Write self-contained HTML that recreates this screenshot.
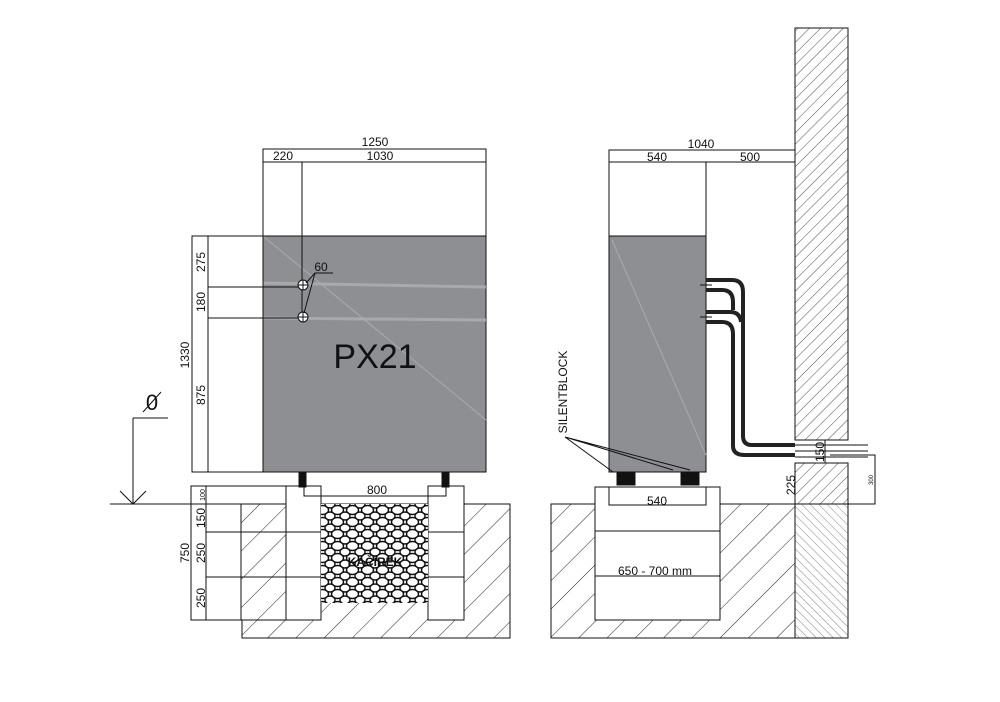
<!DOCTYPE html>
<html><head><meta charset="utf-8"><style>html,body{margin:0;padding:0;background:#fff}svg{display:block}text{font-family:"Liberation Sans",sans-serif;fill:#111}</style></head><body>
<svg width="1000" height="702" viewBox="0 0 1000 702" xmlns="http://www.w3.org/2000/svg">
<defs>
<pattern id="h" patternUnits="userSpaceOnUse" width="20" height="20" patternTransform="rotate(45)"><line x1="0" y1="0" x2="0" y2="20" stroke="#222" stroke-width="1"/></pattern>
<pattern id="hw" patternUnits="userSpaceOnUse" width="8" height="8" patternTransform="rotate(45)"><line x1="0" y1="0" x2="0" y2="8" stroke="#222" stroke-width="0.8"/></pattern>
<pattern id="hx" patternUnits="userSpaceOnUse" width="6" height="6" patternTransform="rotate(-45)"><line x1="0" y1="0" x2="0" y2="6" stroke="#555" stroke-width="0.7"/></pattern>
<pattern id="g" patternUnits="userSpaceOnUse" width="15" height="12"><rect width="15" height="12" fill="#fff"/><ellipse cx="7.5" cy="6" rx="6" ry="4.5" fill="#fff" stroke="#111" stroke-width="1.4"/><ellipse cx="0" cy="0" rx="5" ry="4" fill="#fff" stroke="#111" stroke-width="1.4"/><ellipse cx="15" cy="0" rx="5" ry="4" fill="#fff" stroke="#111" stroke-width="1.4"/><ellipse cx="0" cy="12" rx="5" ry="4" fill="#fff" stroke="#111" stroke-width="1.4"/><ellipse cx="15" cy="12" rx="5" ry="4" fill="#fff" stroke="#111" stroke-width="1.4"/></pattern>
</defs>
<g stroke="#111" stroke-width="1" fill="none">
<!-- LEFT VIEW -->
<rect x="242" y="504" width="268" height="134" fill="url(#h)"/>
<rect x="191" y="486" width="95" height="134" fill="#fff"/>
<line x1="206" y1="504" x2="286" y2="504"/><line x1="206" y1="486" x2="206" y2="620"/>
<line x1="206" y1="532" x2="286" y2="532"/><line x1="206" y1="577" x2="286" y2="577"/>
<rect x="241" y="504" width="45" height="116" fill="url(#h)"/>
<rect x="286" y="486" width="35" height="134" fill="#fff"/>
<rect x="428" y="486" width="36" height="134" fill="#fff"/>
<line x1="428" y1="532" x2="464" y2="532"/><line x1="428" y1="577" x2="464" y2="577"/>
<line x1="286" y1="532" x2="321" y2="532"/><line x1="286" y1="577" x2="321" y2="577"/>
<rect x="321" y="504" width="107" height="99" fill="url(#g)" stroke="none"/>
<polyline points="304,486 304,496 446,496 446,486"/>
<line x1="110" y1="504" x2="242" y2="504"/>
<line x1="133" y1="418" x2="133" y2="504"/><line x1="133" y1="418" x2="168" y2="418"/>
<polyline points="120,491 133,504 146,491"/>
<rect x="263" y="236" width="223" height="236" fill="#8e8f93"/>
<g stroke="#aeb0b3" stroke-width="3" opacity="0.8"><line x1="263" y1="283" x2="486" y2="287"/><line x1="263" y1="318" x2="486" y2="320"/></g>
<line x1="263" y1="236" x2="486" y2="420" stroke="#a9abaf"/>
<rect x="263" y="149" width="223" height="87"/><line x1="263" y1="162" x2="486" y2="162"/>
<line x1="302" y1="162" x2="302" y2="318"/>
<rect x="192" y="236" width="71" height="236"/><line x1="208" y1="236" x2="208" y2="472"/>
<line x1="208" y1="287" x2="302" y2="287"/><line x1="208" y1="318" x2="302" y2="318"/>
<circle cx="303" cy="285" r="5" fill="#fff"/><circle cx="303" cy="317" r="5" fill="#fff"/>
<line x1="298" y1="285" x2="308" y2="285"/><line x1="303" y1="280" x2="303" y2="290"/>
<line x1="298" y1="317" x2="308" y2="317"/><line x1="303" y1="312" x2="303" y2="322"/>
<polyline points="306,283 315,273 333,273"/><line x1="315" y1="273" x2="304" y2="313"/>
<rect x="299" y="473" width="7" height="14" fill="#111"/><rect x="442" y="473" width="7" height="14" fill="#111"/>
<!-- RIGHT VIEW -->
<rect x="551" y="504" width="244" height="134" fill="url(#h)"/>
<rect x="795" y="504" width="53" height="134" fill="url(#hx)"/>
<rect x="795" y="28" width="53" height="412" fill="url(#hw)"/>
<rect x="795" y="463" width="53" height="41" fill="url(#hw)"/>
<rect x="595" y="487" width="125" height="133" fill="#fff"/>
<line x1="595" y1="531" x2="720" y2="531"/><line x1="595" y1="576" x2="720" y2="576"/>
<rect x="609" y="487" width="97" height="18"/>
<rect x="609" y="236" width="97" height="236" fill="#8e8f93"/>
<line x1="612" y1="240" x2="706" y2="455" stroke="#a9abaf"/>
<rect x="609" y="150" width="186" height="12"/><rect x="609" y="162" width="97" height="74"/>
<rect x="617" y="473" width="18" height="12" fill="#111"/><rect x="681" y="473" width="18" height="12" fill="#111"/>
<g stroke="#222" stroke-width="4">
<path d="M706,280 H732 Q743,280 743,292 V436 Q743,445 752,445 H795"/>
<path d="M706,290 H722 Q733,290 733,302 V310"/>
<path d="M706,312 H730 Q740,312 741,322"/>
<path d="M706,322 H722 Q733,322 733,334 V446 Q733,455 745,455 H795"/>
</g>
<line x1="700" y1="285" x2="712" y2="285"/><line x1="700" y1="317" x2="712" y2="317"/>
<line x1="795" y1="445" x2="868" y2="445"/><line x1="795" y1="451" x2="868" y2="451"/><line x1="795" y1="457" x2="868" y2="457"/>
<line x1="825" y1="440" x2="825" y2="463"/>
<polyline points="830,455 875,455 875,504 848,504"/>
<path d="M565,437 L613,472 M565,437 L673,470 M565,437 L690,470"/>
</g>
<text x="375" y="146" font-size="12" text-anchor="middle">1250</text>
<text x="283" y="160" font-size="12" text-anchor="middle">220</text>
<text x="380" y="160" font-size="12" text-anchor="middle">1030</text>
<text x="321" y="271" font-size="12" text-anchor="middle">60</text>
<text x="375" y="368" font-size="34" text-anchor="middle">PX21</text>
<text x="377" y="494" font-size="12" text-anchor="middle">800</text>
<text x="152" y="410" font-size="22" text-anchor="middle">0</text>
<line x1="143" y1="412" x2="161" y2="392" stroke="#111"/>
<g font-size="12" text-anchor="middle">
<text transform="translate(205,262) rotate(-90)">275</text>
<text transform="translate(205,302) rotate(-90)">180</text>
<text transform="translate(205,395) rotate(-90)">875</text>
<text transform="translate(189,355) rotate(-90)">1330</text>
<text transform="translate(205,495) rotate(-90)" font-size="7">100</text>
<text transform="translate(205,518) rotate(-90)">150</text>
<text transform="translate(205,553) rotate(-90)">250</text>
<text transform="translate(189,553) rotate(-90)">750</text>
<text transform="translate(205,598) rotate(-90)">250</text>
<text x="375" y="566" font-weight="bold">KAČÍREK</text>
<text x="701" y="148">1040</text>
<text x="657" y="161">540</text>
<text x="750" y="161">500</text>
<text x="657" y="505">540</text>
<text x="655" y="575">650 - 700 mm</text>
<text transform="translate(567,392) rotate(-90)">SILENTBLOCK</text>
<text transform="translate(824,452) rotate(-90)">150</text>
<text transform="translate(795,485) rotate(-90)">225</text>
<text transform="translate(873,480) rotate(-90)" font-size="6">300</text>
</g>
</svg>
</body></html>
